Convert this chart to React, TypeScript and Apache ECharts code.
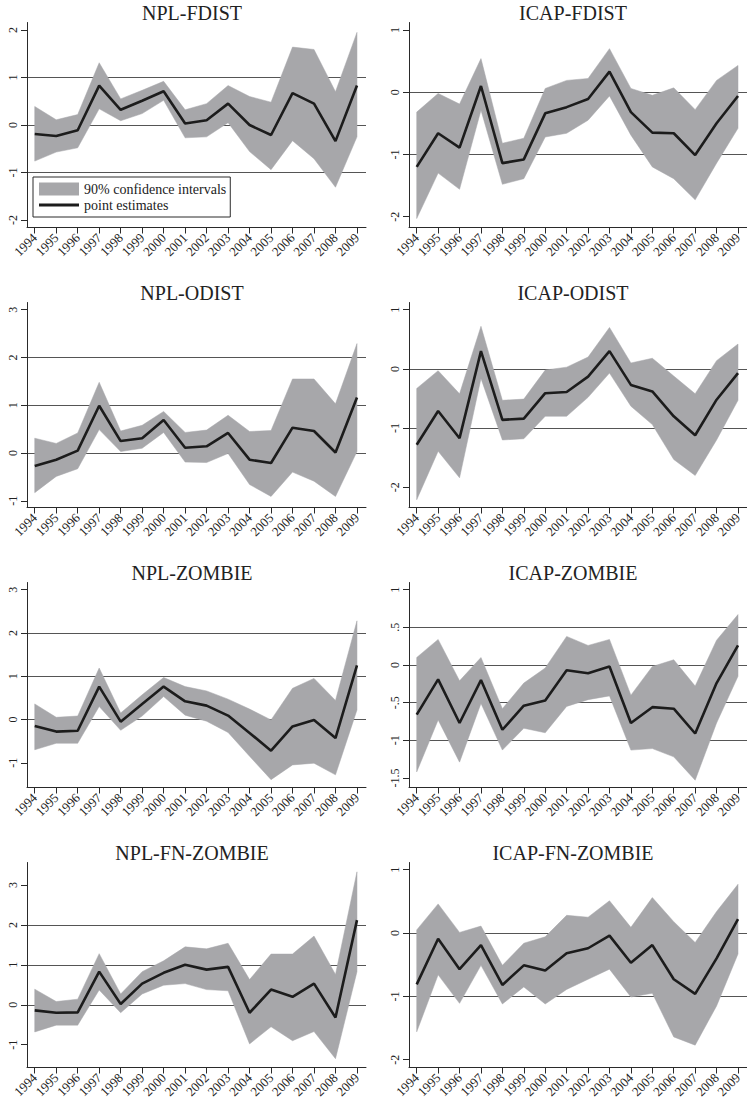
import React, { useEffect, useRef } from "react";
import * as echarts from "echarts";

const years = [1994, 1995, 1996, 1997, 1998, 1999, 2000, 2001, 2002, 2003, 2004, 2005, 2006, 2007, 2008, 2009];

const nplFdistEst = [-0.19, -0.23, -0.11, 0.83, 0.32, 0.51, 0.71, 0.03, 0.10, 0.45, 0.00, -0.21, 0.67, 0.45, -0.34, 0.83];
const nplFdistHi = [0.39, 0.11, 0.22, 1.31, 0.55, 0.73, 0.92, 0.32, 0.45, 0.83, 0.60, 0.48, 1.64, 1.59, 0.70, 1.95];
const nplFdistLo = [-0.76, -0.57, -0.48, 0.34, 0.09, 0.24, 0.52, -0.27, -0.25, 0.05, -0.56, -0.94, -0.33, -0.71, -1.31, -0.25];

const icapFdistEst = [-1.20, -0.66, -0.89, 0.10, -1.14, -1.08, -0.34, -0.24, -0.11, 0.33, -0.32, -0.65, -0.66, -1.01, -0.50, -0.06];
const icapFdistHi = [-0.32, -0.02, -0.19, 0.54, -0.82, -0.74, 0.06, 0.19, 0.22, 0.70, 0.06, -0.05, 0.07, -0.28, 0.19, 0.43];
const icapFdistLo = [-2.03, -1.30, -1.56, -0.29, -1.48, -1.39, -0.72, -0.66, -0.45, -0.06, -0.69, -1.20, -1.39, -1.73, -1.14, -0.58];

const nplOdistEst = [-0.27, -0.14, 0.05, 0.99, 0.25, 0.31, 0.69, 0.11, 0.14, 0.42, -0.14, -0.21, 0.53, 0.46, 0.01, 1.16];
const nplOdistHi = [0.31, 0.20, 0.42, 1.48, 0.46, 0.58, 0.87, 0.43, 0.48, 0.79, 0.45, 0.47, 1.55, 1.55, 1.03, 2.29];
const nplOdistLo = [-0.83, -0.49, -0.33, 0.49, 0.03, 0.10, 0.43, -0.19, -0.20, -0.01, -0.66, -0.91, -0.40, -0.59, -0.91, 0.03];

const icapOdistEst = [-1.28, -0.71, -1.17, 0.30, -0.86, -0.84, -0.41, -0.39, -0.13, 0.30, -0.27, -0.38, -0.80, -1.12, -0.52, -0.07];
const icapOdistHi = [-0.33, -0.03, -0.42, 0.72, -0.53, -0.51, -0.02, 0.03, 0.20, 0.70, 0.10, 0.18, -0.12, -0.42, 0.14, 0.42];
const icapOdistLo = [-2.21, -1.39, -1.84, -0.16, -1.20, -1.18, -0.80, -0.80, -0.48, -0.07, -0.63, -0.94, -1.53, -1.80, -1.20, -0.53];

const nplZombieEst = [-0.15, -0.28, -0.26, 0.76, -0.05, 0.36, 0.76, 0.42, 0.32, 0.09, -0.31, -0.72, -0.16, -0.01, -0.43, 1.25];
const nplZombieHi = [0.36, 0.05, 0.08, 1.19, 0.15, 0.57, 0.97, 0.76, 0.66, 0.47, 0.24, -0.01, 0.72, 0.95, 0.44, 2.28];
const nplZombieLo = [-0.70, -0.55, -0.55, 0.30, -0.25, 0.08, 0.53, 0.10, -0.04, -0.30, -0.85, -1.39, -1.05, -1.01, -1.28, 0.22];

const icapZombieEst = [-0.66, -0.19, -0.77, -0.20, -0.86, -0.54, -0.47, -0.07, -0.11, -0.02, -0.77, -0.56, -0.58, -0.91, -0.24, 0.26];
const icapZombieHi = [0.10, 0.34, -0.21, 0.10, -0.58, -0.24, -0.04, 0.38, 0.26, 0.34, -0.40, -0.02, 0.07, -0.28, 0.33, 0.67];
const icapZombieLo = [-1.42, -0.73, -1.29, -0.51, -1.13, -0.84, -0.90, -0.55, -0.46, -0.41, -1.13, -1.11, -1.22, -1.53, -0.77, -0.15];

const nplFnZombieEst = [-0.14, -0.20, -0.19, 0.83, 0.02, 0.53, 0.80, 1.00, 0.88, 0.95, -0.20, 0.38, 0.20, 0.53, -0.32, 2.12];
const nplFnZombieHi = [0.39, 0.08, 0.14, 1.28, 0.27, 0.83, 1.10, 1.45, 1.40, 1.54, 0.63, 1.27, 1.27, 1.72, 0.76, 3.33];
const nplFnZombieLo = [-0.68, -0.51, -0.51, 0.37, -0.20, 0.27, 0.49, 0.53, 0.38, 0.35, -0.98, -0.55, -0.90, -0.67, -1.35, 0.83];

const icapFnZombieEst = [-0.81, -0.09, -0.57, -0.19, -0.82, -0.51, -0.59, -0.32, -0.24, -0.04, -0.47, -0.19, -0.73, -0.96, -0.40, 0.22];
const icapFnZombieHi = [0.05, 0.46, 0.01, 0.11, -0.51, -0.16, -0.06, 0.28, 0.25, 0.51, 0.09, 0.56, 0.18, -0.15, 0.34, 0.77];
const icapFnZombieLo = [-1.56, -0.66, -1.11, -0.51, -1.12, -0.85, -1.12, -0.89, -0.73, -0.57, -1.01, -0.95, -1.64, -1.77, -1.15, -0.33];

const titles = ["NPL-FDIST", "ICAP-FDIST", "NPL-ODIST", "ICAP-ODIST", "NPL-ZOMBIE", "ICAP-ZOMBIE", "NPL-FN-ZOMBIE", "ICAP-FN-ZOMBIE"];

const ticksA = [-2, -1, 0, 1, 2];
const ticksB = [-2, -1, 0, 1];
const ticksC = [-1, 0, 1, 2, 3];
const ticksD = [-1.5, -1, -0.5, 0, 0.5, 1];

const legendNames = ["90% confidence intervals", "point estimates"];

type Panel = {
  title: string;
  est: number[];
  lo: number[];
  hi: number[];
  yMin: number;
  yMax: number;
  ticks: number[];
  step: number;
};

const panels: Panel[] = [
  { title: titles[0], est: nplFdistEst, lo: nplFdistLo, hi: nplFdistHi, yMin: -2.158, yMax: 2.158, ticks: ticksA, step: 1 },
  { title: titles[1], est: icapFdistEst, lo: icapFdistLo, hi: icapFdistHi, yMin: -2.174, yMax: 1.12, ticks: ticksB, step: 1 },
  { title: titles[2], est: nplOdistEst, lo: nplOdistLo, hi: nplOdistHi, yMin: -1.141, yMax: 3.151, ticks: ticksC, step: 1 },
  { title: titles[3], est: icapOdistEst, lo: icapOdistLo, hi: icapOdistHi, yMin: -2.341, yMax: 1.122, ticks: ticksB, step: 1 },
  { title: titles[4], est: nplZombieEst, lo: nplZombieLo, hi: nplZombieHi, yMin: -1.572, yMax: 3.166, ticks: ticksC, step: 1 },
  { title: titles[5], est: icapZombieEst, lo: icapZombieLo, hi: icapZombieHi, yMin: -1.627, yMax: 1.096, ticks: ticksD, step: 0.5 },
  { title: titles[6], est: nplFnZombieEst, lo: nplFnZombieLo, hi: nplFnZombieHi, yMin: -1.571, yMax: 3.563, ticks: ticksC, step: 1 },
  { title: titles[7], est: icapFnZombieEst, lo: icapFnZombieLo, hi: icapFnZombieHi, yMin: -2.123, yMax: 1.114, ticks: ticksB, step: 1 },
];

const FONT = "'Liberation Serif', 'DejaVu Serif', serif";
const BAND = "#a7a7aa";
const LINE = "#1c1c1c";
const AXIS = "#2a2a2a";
const GRIDC = "#555555";

const GRID_LEFT = [27, 409];
const GRID_WIDTH = [339, 338];
const TITLE_X = [192, 573];
const TOP0 = 22.5;
const ROW_H = 280;
const GRID_H = 205;

const stata = (v: number) => {
  if (v === 0) return "0";
  return String(v).replace(/^(-?)0\./, "$1.");
};

function buildOption() {
  const grid: any[] = [];
  const xAxis: any[] = [];
  const yAxis: any[] = [];
  const title: any[] = [];
  const series: any[] = [];

  panels.forEach((p, i) => {
    const col = i % 2;
    const row = Math.floor(i / 2);
    const top = TOP0 + ROW_H * row;
    grid.push({ left: GRID_LEFT[col], top, width: GRID_WIDTH[col], height: GRID_H });
    title.push({
      text: p.title,
      left: TITLE_X[col],
      top: top - 19.5,
      textAlign: "center",
      padding: 0,
      textStyle: { fontFamily: FONT, fontSize: 20, fontWeight: "normal", color: "#222" },
    });
    xAxis.push({
      type: "value",
      gridIndex: i,
      min: 1993.64,
      max: 2009.42,
      axisLine: { show: true, onZero: false, lineStyle: { color: AXIS, width: 1 } },
      axisTick: { show: true, customValues: years, length: 6, lineStyle: { color: AXIS, width: 1 } },
      axisLabel: {
        customValues: years,
        rotate: 45,
        margin: 8,
        formatter: (v: number) => String(v),
        fontFamily: FONT,
        fontSize: 13,
        color: "#222",
      },
      splitLine: { show: false },
    });
    yAxis.push({
      type: "value",
      gridIndex: i,
      min: p.yMin,
      max: p.yMax,
      minInterval: p.step,
      maxInterval: p.step,
      axisLine: { show: true, onZero: false, lineStyle: { color: AXIS, width: 1 } },
      axisTick: { show: true, customValues: p.ticks, length: 6, lineStyle: { color: AXIS, width: 1 } },
      axisLabel: {
        customValues: p.ticks,
        rotate: 90,
        margin: 8,
        formatter: (v: number) => stata(v),
        fontFamily: FONT,
        fontSize: 12,
        color: "#222",
      },
      splitLine: { show: true, showMinLine: false, showMaxLine: false, lineStyle: { color: GRIDC, width: 1 } },
    });
    series.push({
      type: "custom",
      name: legendNames[0],
      xAxisIndex: i,
      yAxisIndex: i,
      data: years.map((y, k) => [y, p.lo[k], p.hi[k]]),
      encode: { x: 0, y: [1, 2] },
      itemStyle: { color: BAND },
      silent: true,
      z: 2,
      renderItem: (params: any, api: any) => {
        if (params.dataIndexInside !== 0) return null;
        const n = params.dataInsideLength;
        const upper: number[][] = [];
        const lower: number[][] = [];
        for (let k = 0; k < n; k++) {
          upper.push(api.coord([api.value(0, k), api.value(2, k)]));
          lower.push(api.coord([api.value(0, k), api.value(1, k)]));
        }
        return {
          type: "polygon",
          shape: { points: upper.concat(lower.reverse()) },
          style: { fill: BAND, stroke: BAND, lineWidth: 0.5 },
        };
      },
    });
    series.push({
      type: "line",
      name: legendNames[1],
      xAxisIndex: i,
      yAxisIndex: i,
      data: years.map((y, k) => [y, p.est[k]]),
      symbol: "none",
      lineStyle: { color: LINE, width: 2.6 },
      itemStyle: { color: LINE },
      silent: true,
      z: 3,
    });
  });

  return {
    animation: false,
    backgroundColor: "#ffffff",
    textStyle: { fontFamily: FONT },
    title,
    grid,
    xAxis,
    yAxis,
    legend: {
      data: [
        { name: legendNames[0], icon: "rect", itemStyle: { color: BAND, borderWidth: 0 } },
        { name: legendNames[1], icon: "path://M0,0H40V3H0Z", itemStyle: { color: LINE, borderWidth: 0 } },
      ],
      left: 33,
      top: 177,
      orient: "vertical",
      itemWidth: 40,
      itemHeight: 13,
      itemGap: 2,
      symbolKeepAspect: true,
      padding: [5, 4, 5, 6],
      backgroundColor: "#ffffff",
      borderColor: AXIS,
      borderWidth: 1,
      borderRadius: 0,
      selectedMode: false,
      textStyle: { fontFamily: FONT, fontSize: 14, color: "#222" },
    },
    series,
  };
}

export default function App() {
  const ref = useRef<HTMLDivElement>(null);
  useEffect(() => {
    if (!ref.current) return;
    const chart = echarts.init(ref.current, undefined, { renderer: "svg" });
    chart.setOption(buildOption() as any);
    return () => chart.dispose();
  }, []);
  return (
    <div
      ref={ref}
      style={{ position: "absolute", left: 0, top: 0, width: 747, height: 1106, background: "#fff" }}
    />
  );
}
